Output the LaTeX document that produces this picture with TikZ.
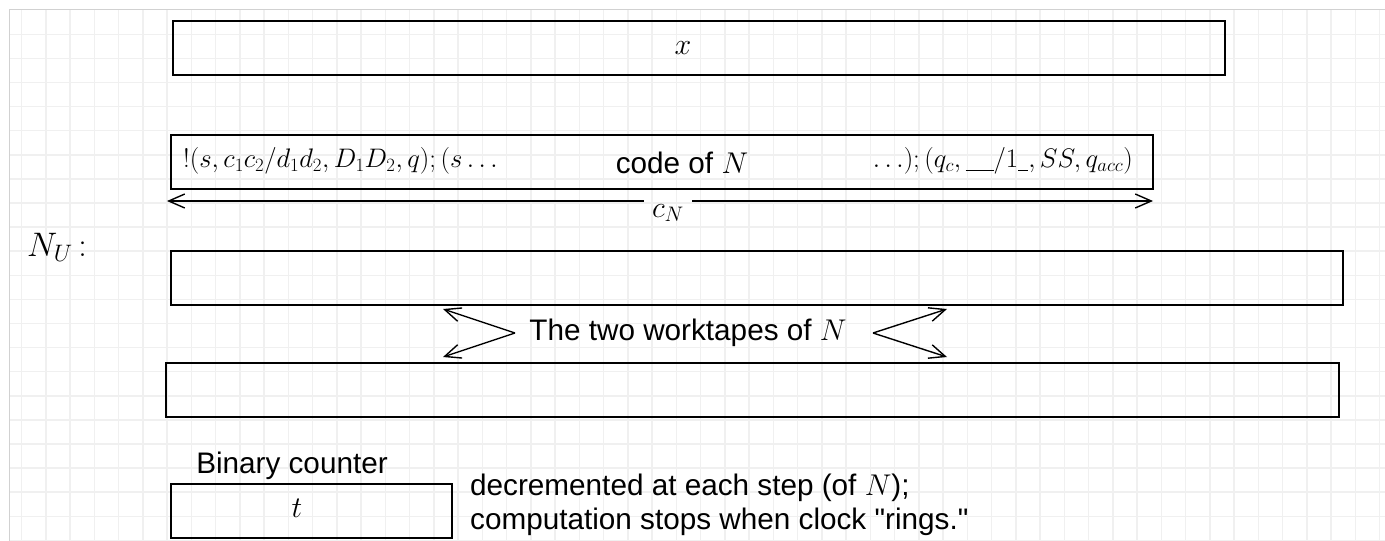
\RequirePackage{fix-cm}
\documentclass[tikz,border=0pt]{standalone}
\usepackage{fontspec}
\setsansfont{Liberation Sans}[Ligatures=TeXOff]
\usetikzlibrary{arrows.meta}
\tikzset{
  gridline/.style={draw=black!6, line width=1.5pt},
  tapebox/.style={draw=black, line width=2pt, inner sep=0pt, outer sep=0pt, anchor=north west, fill=none},
  lbl/.style={font=\sffamily\fontsize{29.7}{34}\selectfont, inner sep=0pt},
  mlbl/.style={font=\fontsize{30}{34}\selectfont, inner sep=0pt},
  codetxt/.style={font=\fontsize{26.8}{30}\selectfont, inner sep=0pt},
  arr/.style={line width=1.4pt, -{Straight Barb[length=16pt,width=14pt,line width=1.4pt]}},
}
\begin{document}
\begin{tikzpicture}[x=1pt,y=-1pt]
\useasboundingbox (0,0) rectangle (1385,541);
\fill[white] (0,0) rectangle (1385,541);
% grid
\begin{scope}
\clip (9,9) rectangle (1385,541);
\foreach \i in {0,...,56} \draw[gridline] ({21.7+24.25*\i},9) -- ++(0,540);
\foreach \j in {0,...,21} \draw[gridline] (9,{34.3+24.1*\j}) -- ++(1380,0);
\end{scope}
\draw[black!18, line width=1pt] (9,541) -- (9,9) -- (1385,9);

% input tape
\node[tapebox, minimum width=1052pt, minimum height=54pt] (xt) at (173,21) {};
\node[mlbl] (xl) at (683,48) {$x$};

% code tape
\node[tapebox, minimum width=982pt, minimum height=54pt] (ct) at (171,135) {};
\node[codetxt, anchor=west] (cleft) at (183,161) {$!(s,c_1c_2/d_1d_2,D_1D_2,q);(s\ldots$};
\node[codetxt, anchor=east] (cright) at (1133,161) {$\ldots);(q_c,\rule[-3pt]{28pt}{1.2pt}/1\rule[-3pt]{10pt}{1.2pt},SS,q_{acc})$};
\node[lbl] (cof) at (682,163) {code of \fontsize{30}{34}\selectfont$N$};

% c_N arrow
\coordinate (cl) at (167,201);
\coordinate (cr) at (1153,201);
\node[mlbl] (cN) at (668,213) {$c_N$};
\draw[arr] (cN.west |- cl) ++(-8,0) -- (cl);
\draw[arr] (cN.east |- cr) ++(8,0) -- (cr);

% N_U label
\node[mlbl, font=\fontsize{34}{38}\selectfont] (NU) at (57,247) {$N_U\,{:}$};

% worktapes
\node[tapebox, minimum width=1172pt, minimum height=54pt] (w1) at (171,251) {};
\node[tapebox, minimum width=1173pt, minimum height=54pt] (w2) at (166,363) {};
\node[lbl] (wl) at (688,333) {The two worktapes of \fontsize{30}{34}\selectfont$N$};
\coordinate (lv) at (515,333);
\coordinate (lt1) at (443,309);
\coordinate (lt2) at (443,357);
\coordinate (rv) at (873,333);
\coordinate (rt1) at (947,309);
\coordinate (rt2) at (947,357);
\draw[arr] (lv) -- (lt1);
\draw[arr] (lv) -- (lt2);
\draw[arr] (rv) -- (rt1);
\draw[arr] (rv) -- (rt2);

% binary counter
\node[lbl] (bcl) at (292,466) {Binary counter};
\node[tapebox, minimum width=281pt, minimum height=54pt] (bc) at (171,484) {};
\node[mlbl] (tl) at (297,508) {$t$};
\node[lbl, anchor=west] (d1) at (470,488) {decremented at each step (of \fontsize{30}{34}\selectfont$N$\fontsize{29.7}{34}\selectfont);};
\node[lbl, anchor=west] (d2) at (470,522) {computation stops when clock "rings."};
\end{tikzpicture}
\end{document}
